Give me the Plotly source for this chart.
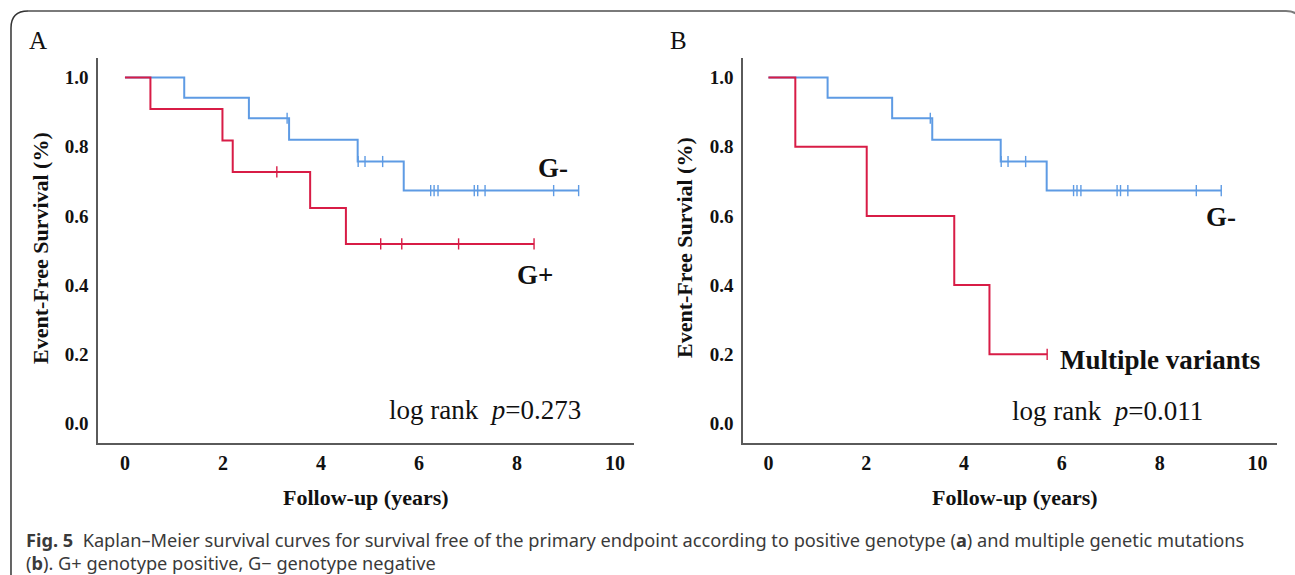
import plotly.graph_objects as go

# ---------------- data ----------------
# Panel A (genotype)
a_gneg_t = [0, 1.21, 2.53, 3.35, 4.75, 5.69, 9.26]
a_gneg_s = [1.0, 0.941, 0.882, 0.820, 0.757, 0.673, 0.673]
a_gneg_cens_t = [3.31, 4.76, 4.90, 5.26, 6.24, 6.31, 6.39, 7.13, 7.20, 7.35, 8.75, 9.26]
a_gneg_cens_s = [0.882, 0.757, 0.757, 0.757, 0.673, 0.673, 0.673, 0.673, 0.673, 0.673, 0.673, 0.673]

a_gpos_t = [0, 0.52, 1.99, 2.20, 3.78, 4.51, 8.35]
a_gpos_s = [1.0, 0.909, 0.818, 0.727, 0.623, 0.519, 0.519]
a_gpos_cens_t = [3.10, 5.22, 5.65, 6.81, 8.35]
a_gpos_cens_s = [0.727, 0.519, 0.519, 0.519, 0.519]

# Panel B (multiple variants)
b_gneg_t = a_gneg_t
b_gneg_s = a_gneg_s
b_gneg_cens_t = a_gneg_cens_t
b_gneg_cens_s = a_gneg_cens_s

b_multi_t = [0, 0.55, 2.01, 3.80, 4.52, 5.70]
b_multi_s = [1.0, 0.80, 0.60, 0.40, 0.20, 0.20]
b_multi_cens_t = [5.70]
b_multi_cens_s = [0.20]

x_ticks = [0, 2, 4, 6, 8, 10]
y_ticks = [0.0, 0.2, 0.4, 0.6, 0.8, 1.0]
y_tick_text = ["0.0", "0.2", "0.4", "0.6", "0.8", "1.0"]

BLUE = "#5e9be4"
RED = "#d81c46"
AX = "#5a5a5a"
SERIF = "Liberation Serif, Times New Roman, serif"
SANS = "Noto Sans, Open Sans, sans-serif"

W, H = 1295, 575

fig = go.Figure()


def add_curve(t, s, ct, cs, color, xa, ya):
    fig.add_trace(go.Scatter(x=t, y=s, mode="lines", line=dict(color=color, width=2, shape="hv"),
                             xaxis=xa, yaxis=ya, showlegend=False, hoverinfo="skip"))
    fig.add_trace(go.Scatter(x=ct, y=cs, mode="markers",
                             marker=dict(symbol="line-ns", size=8, color=color,
                                         line=dict(color=color, width=1.4)),
                             xaxis=xa, yaxis=ya, showlegend=False, hoverinfo="skip"))


add_curve(a_gneg_t, a_gneg_s, a_gneg_cens_t, a_gneg_cens_s, BLUE, "x", "y")
add_curve(a_gpos_t, a_gpos_s, a_gpos_cens_t, a_gpos_cens_s, RED, "x", "y")
add_curve(b_gneg_t, b_gneg_s, b_gneg_cens_t, b_gneg_cens_s, BLUE, "x2", "y2")
add_curve(b_multi_t, b_multi_s, b_multi_cens_t, b_multi_cens_s, RED, "x2", "y2")

xcommon = dict(showgrid=False, zeroline=False, showline=True, linecolor=AX, linewidth=1.6,
               tickmode="array", tickvals=x_ticks, ticks="outside", ticklen=1,
               tickcolor="rgba(0,0,0,0)",
               tickfont=dict(family=SERIF, size=20, color="#111", weight="bold"))
ycommon = dict(showgrid=False, zeroline=False, showline=True, linecolor=AX, linewidth=1.6,
               tickmode="array", tickvals=y_ticks, ticktext=y_tick_text, ticks="outside",
               ticklen=4, tickcolor="rgba(0,0,0,0)", range=[-0.056, 1.056],
               tickfont=dict(family=SERIF, size=19, color="#111", weight="bold"))

ydom = [1 - 443 / H, 1 - 58 / H]
fig.update_layout(
    width=W, height=H, margin=dict(l=0, r=0, t=0, b=0), autosize=False,
    paper_bgcolor="white", plot_bgcolor="white",
    xaxis=dict(domain=[98 / W, 634 / W], range=[-0.55, 10.39], anchor="y", **xcommon),
    yaxis=dict(domain=ydom, anchor="x", **ycommon),
    xaxis2=dict(domain=[743 / W, 1277 / W], range=[-0.52, 10.4], anchor="y2", **xcommon),
    yaxis2=dict(domain=ydom, anchor="x2", **ycommon),
)

anns = []
lab_font = dict(family=SERIF, size=27, color="#111", weight="bold")
reg_font = dict(family=SERIF, size=27, color="#111")
# Panel A labels
anns.append(dict(x=8.73, y=0.738, xref="x", yref="y", text="G-", font=lab_font, showarrow=False))
anns.append(dict(x=8.37, y=0.429, xref="x", yref="y", text="G+", font=lab_font, showarrow=False))
anns.append(dict(x=7.35, y=0.040, xref="x", yref="y", text="log rank  <i>p</i>=0.273",
                 font=reg_font, showarrow=False))
# Panel B labels
anns.append(dict(x=9.26, y=0.597, xref="x2", yref="y2", text="G-", font=lab_font, showarrow=False))
anns.append(dict(x=8.0, y=0.184, xref="x2", yref="y2", text="Multiple variants", font=lab_font,
                 showarrow=False))
anns.append(dict(x=6.93, y=0.035, xref="x2", yref="y2", text="log rank  <i>p</i>=0.011",
                 font=reg_font, showarrow=False))

# axis titles
ttl_font = dict(family=SERIF, size=22, color="#111", weight="bold")
anns.append(dict(x=40 / W, y=1 - 248 / H, xref="paper", yref="paper", xanchor="center",
                 yanchor="middle", text="Event-Free Survival (%)",
                 textangle=-90, font=ttl_font, showarrow=False))
anns.append(dict(x=684 / W, y=1 - 248 / H, xref="paper", yref="paper", xanchor="center",
                 yanchor="middle", text="Event-Free Survial (%)",
                 textangle=-90, font=ttl_font, showarrow=False))
anns.append(dict(x=366 / W, y=1 - 497 / H, xref="paper", yref="paper", xanchor="center",
                 yanchor="middle", text="Follow-up (years)", font=ttl_font, showarrow=False))
anns.append(dict(x=1015 / W, y=1 - 497 / H, xref="paper", yref="paper", xanchor="center",
                 yanchor="middle", text="Follow-up (years)", font=ttl_font, showarrow=False))

# panel letters
anns.append(dict(x=38 / W, y=1 - 40 / H, xref="paper", yref="paper", xanchor="center",
                 yanchor="middle", text="A",
                 font=dict(family=SERIF, size=25, color="#111"), showarrow=False))
anns.append(dict(x=678 / W, y=1 - 40 / H, xref="paper", yref="paper", xanchor="center",
                 yanchor="middle", text="B",
                 font=dict(family=SERIF, size=25, color="#111"), showarrow=False))

# caption
cap_font = dict(family=SANS, size=18.2, color="#3a3a3a")
anns.append(dict(x=24 / W, y=1 - 540 / H, xref="paper", yref="paper", xanchor="left", yanchor="middle",
                 text="<b>Fig. 5</b>  Kaplan–Meier survival curves for survival free of the primary endpoint "
                      "according to positive genotype (<b>a</b>) and multiple genetic mutations",
                 font=cap_font, showarrow=False))
anns.append(dict(x=24 / W, y=1 - 563 / H, xref="paper", yref="paper", xanchor="left", yanchor="middle",
                 text="(<b>b</b>). G+ genotype positive, G− genotype negative",
                 font=cap_font, showarrow=False))
fig.update_layout(annotations=anns)


def P(x, y):
    return f"{x / W:.5f},{1 - y / H:.5f}"


shapes = [
    dict(type="path", xref="paper", yref="paper",
         path=f"M {P(11, 575)} L {P(11, 28)} Q {P(11, 11)} {P(28, 11)}",
         line=dict(color="#333333", width=1.5)),
    dict(type="path", xref="paper", yref="paper",
         path=f"M {P(28, 11)} L {P(1286, 11)} Q {P(1302, 11)} {P(1302, 28)}",
         line=dict(color="#7a7a7a", width=2)),
]
fig.update_layout(shapes=shapes)

fig.write_html("out.html")
